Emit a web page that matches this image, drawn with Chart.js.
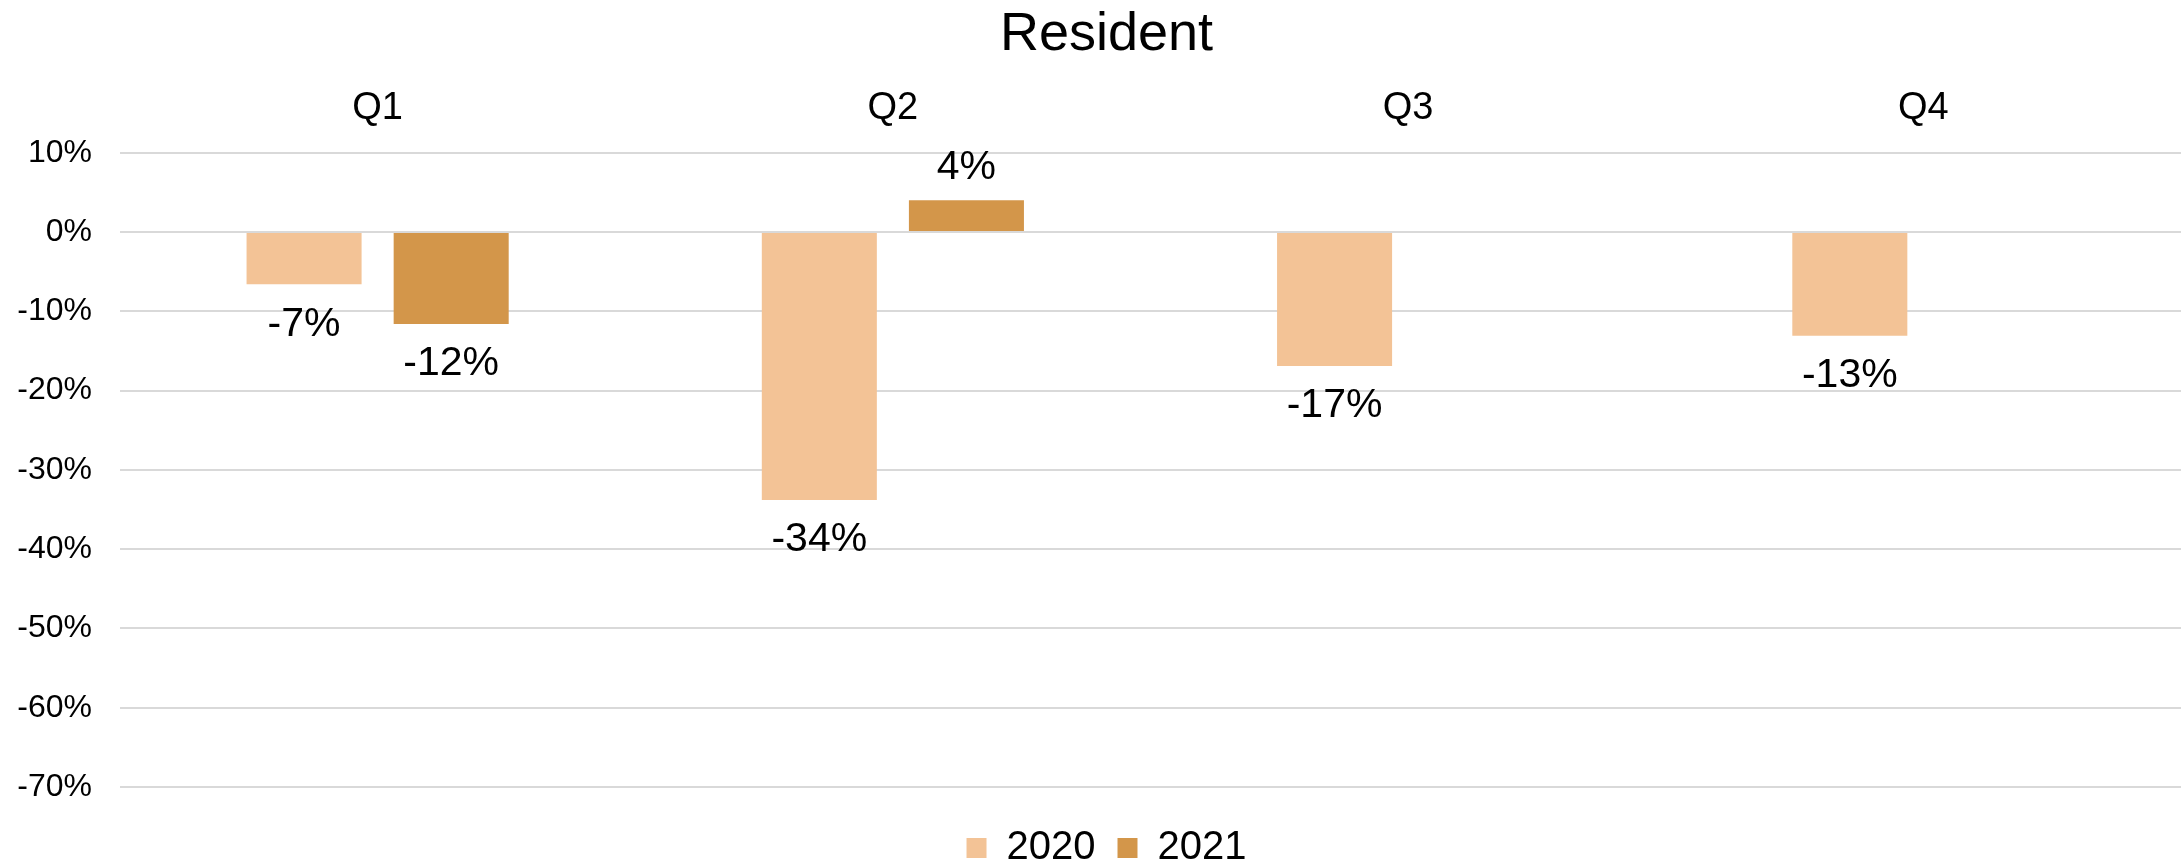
<!DOCTYPE html>
<html>
<head>
<meta charset="utf-8">
<title>Resident</title>
<script src="https://cdn.jsdelivr.net/npm/chart.js@4/dist/chart.umd.min.js"></script>
<style>
  html, body { margin: 0; padding: 0; background: #ffffff; overflow: hidden; }
  #chart { display: block; }
</style>
</head>
<body>
<canvas id="chart" width="2213" height="878"></canvas>
<script>
// Quarterly change for residents, year over year (percent)
const quarters = ['Q1', 'Q2', 'Q3', 'Q4'];
const seriesNames = ['2020', '2021'];
const values2020 = [-6.6, -33.8, -16.9, -13.1];
const values2021 = [-11.6, 4.0, null, null];
const yTicks = { min: -70, max: 10, step: 10 };

const FONT = "'Liberation Sans', Arial, Helvetica, sans-serif";
const colors = ['#F3C396', '#D3964A'];
const LABEL_SIZE = 41;

// Value labels drawn just outside the end of each bar
const barValueLabels = {
  id: 'barValueLabels',
  afterDatasetsDraw(chart) {
    const ctx = chart.ctx;
    ctx.save();
    ctx.font = LABEL_SIZE + 'px ' + FONT;
    ctx.fillStyle = '#000000';
    ctx.textAlign = 'center';
    ctx.textBaseline = 'alphabetic';
    chart.data.datasets.forEach((ds, di) => {
      const meta = chart.getDatasetMeta(di);
      meta.data.forEach((bar, i) => {
        const v = ds.data[i];
        if (v === null || v === undefined) return;
        const text = v.toFixed(0) + '%';
        const y = v < 0 ? bar.y + 23 + LABEL_SIZE * 0.69 : bar.y - 21;
        ctx.fillText(text, bar.x, y);
      });
    });
    ctx.restore();
  }
};

// Empty axes used only to reserve margin space around the plot
const spacerAxis = (type, position, size) => ({
  type,
  position,
  display: true,
  grid: { display: false },
  border: { display: false },
  ticks: { display: false },
  afterFit(scale) {
    if (position === 'left' || position === 'right') scale.width = size;
    else scale.height = size;
  }
});

const barStyle = { borderWidth: 0, categoryPercentage: 0.571, barPercentage: 0.782, xAxisID: 'x', yAxisID: 'y' };

new Chart(document.getElementById('chart'), {
  type: 'bar',
  data: {
    labels: quarters,
    datasets: [
      Object.assign({ label: seriesNames[0], data: values2020, backgroundColor: colors[0] }, barStyle),
      Object.assign({ label: seriesNames[1], data: values2021, backgroundColor: colors[1] }, barStyle)
    ]
  },
  options: {
    responsive: false,
    animation: false,
    layout: { padding: 0 },
    scales: {
      x: {
        position: 'top',
        grid: { display: false },
        border: { display: false },
        ticks: { font: { family: FONT, size: 38 }, color: '#000000', padding: 13 },
        afterFit(scale) { scale.height = 86.6; }
      },
      y: {
        min: yTicks.min,
        max: yTicks.max,
        ticks: {
          stepSize: yTicks.step,
          font: { family: FONT, size: 32 },
          color: '#000000',
          padding: 28,
          callback: (v) => v + '%'
        },
        grid: { color: '#d9d9d9', lineWidth: 2, drawTicks: false },
        border: { display: false },
        afterFit(scale) { scale.width = 120; }
      },
      xSpacer: Object.assign(spacerAxis('category', 'bottom', 19), { labels: quarters }),
      ySpacer: Object.assign(spacerAxis('linear', 'right', 32), { min: 0, max: 1 })
    },
    plugins: {
      title: {
        display: true,
        text: 'Resident',
        color: '#000000',
        font: { family: FONT, size: 54, weight: 'normal', lineHeight: 1.15 },
        padding: { top: 4, bottom: 0 }
      },
      legend: {
        position: 'bottom',
        labels: {
          font: { family: FONT, size: 40 },
          color: '#000000',
          boxWidth: 20,
          boxHeight: 20,
          padding: 22
        }
      },
      tooltip: { enabled: false }
    }
  },
  plugins: [barValueLabels]
});
</script>
</body>
</html>
